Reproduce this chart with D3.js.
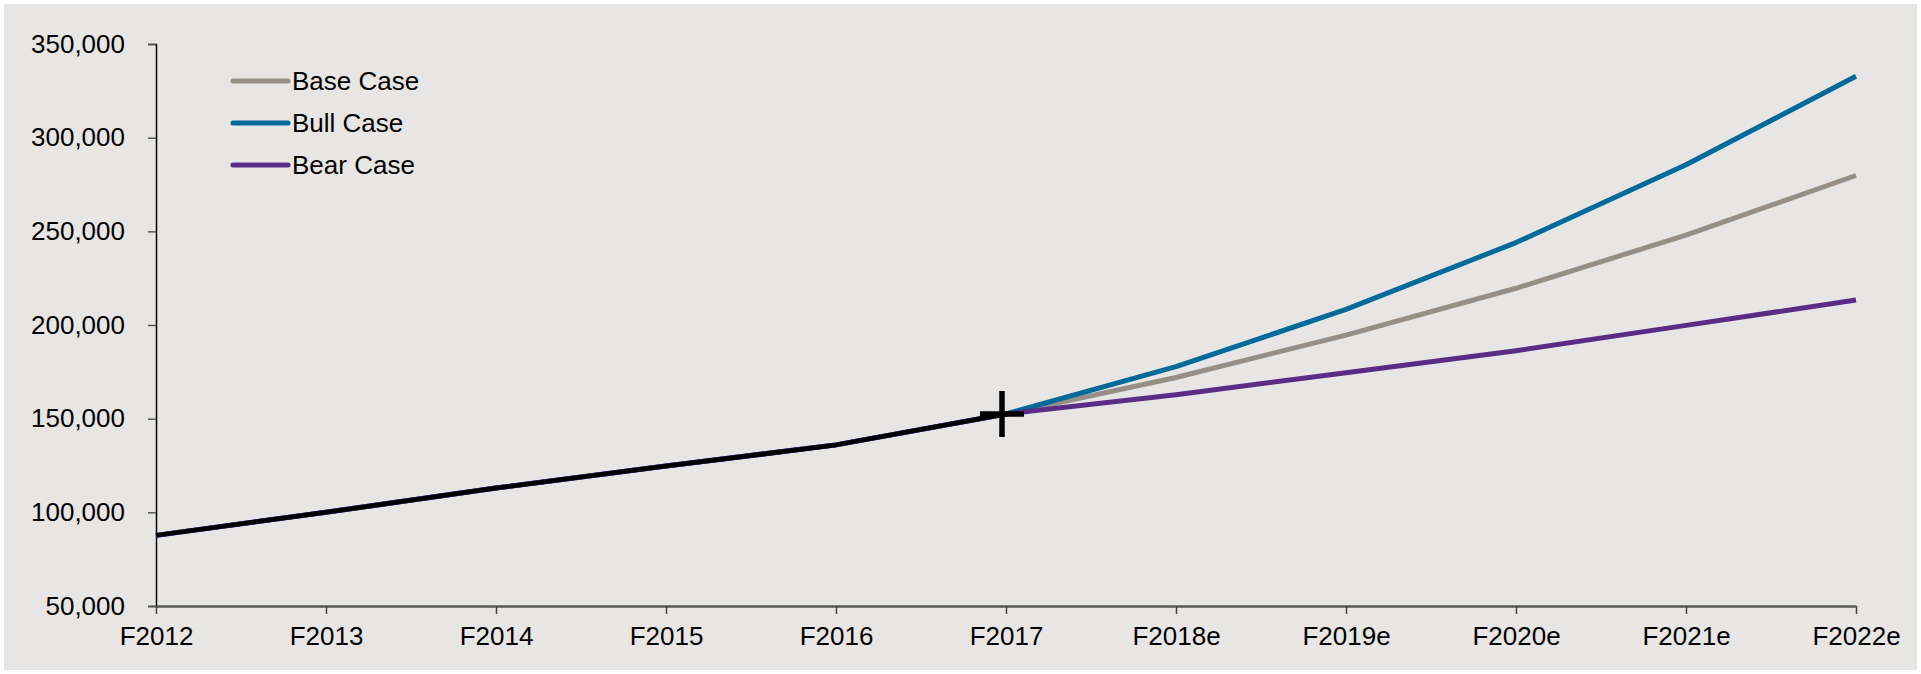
<!DOCTYPE html>
<html>
<head>
<meta charset="utf-8">
<script src="https://cdn.jsdelivr.net/npm/d3@7/dist/d3.min.js"></script>
<style>
  html, body { margin: 0; padding: 0; background: #ffffff; }
  svg { display: block; }
  text { font-family: "Liberation Sans", Arial, sans-serif; fill: #000; }
</style>
</head>
<body>
<svg id="chart" width="1921" height="674"></svg>
<script>
// Fiscal years (actuals through F2017, estimates after)
const categories = ["F2012", "F2013", "F2014", "F2015", "F2016", "F2017",
                    "F2018e", "F2019e", "F2020e", "F2021e", "F2022e"];

// Reported history
const actual = [87700, 100000, 113000, 124700, 136000, 152500];

// Scenario paths (history + projections)
const baseCase = [87700, 100000, 113000, 124700, 136000, 152500, 172000, 194600, 219600, 248000, 279800];
const bullCase = [87700, 100000, 113000, 124700, 136000, 152500, 177800, 208300, 244000, 285500, 332800];
const bearCase = [87700, 100000, 113000, 124700, 136000, 152500, 162800, 174500, 186300, 199800, 213300];

const yTicks = [50000, 100000, 150000, 200000, 250000, 300000, 350000];

const seriesNames = ["Base Case", "Bull Case", "Bear Case"];
const seriesColors = ["#968f85", "#006a9b", "#5b2c86"];
const seriesValues = [baseCase, bullCase, bearCase];

const W = 1921, H = 674;
const margin = { left: 156, right: 65, top: 44, bottom: 68 };

const svg = d3.select("#chart");

// panel background
svg.append("rect")
  .attr("x", 4).attr("y", 4)
  .attr("width", W - 8).attr("height", H - 8)
  .attr("fill", "#e7e6e4");

const x = d3.scalePoint()
  .domain(categories)
  .range([margin.left, W - margin.right]);

const y = d3.scaleLinear()
  .domain([50000, 350000])
  .range([H - margin.bottom, margin.top]);

const fmt = d3.format(",");

// y axis
const yAxis = svg.append("g")
  .attr("transform", `translate(${margin.left},0)`)
  .call(d3.axisLeft(y).tickValues(yTicks).tickFormat(fmt).tickSize(8).tickPadding(23));
yAxis.select(".domain").attr("stroke", "#000").attr("stroke-width", 1.5);
yAxis.selectAll(".tick line").attr("stroke", "#555").attr("stroke-width", 1.5);
yAxis.selectAll(".tick text")
  .attr("font-size", 26)
  .attr("font-family", "Liberation Sans, Arial, sans-serif")
  .attr("fill", "#000");

// x axis
const xAxis = svg.append("g")
  .attr("transform", `translate(0,${y(50000)})`)
  .call(d3.axisBottom(x).tickSize(8).tickPadding(13).tickSizeOuter(0));
xAxis.select(".domain").attr("stroke", "#595959").attr("stroke-width", 2.5);
xAxis.selectAll(".tick line").attr("stroke", "#444").attr("stroke-width", 1.5);
xAxis.selectAll(".tick text")
  .attr("font-size", 26)
  .attr("font-family", "Liberation Sans, Arial, sans-serif")
  .attr("fill", "#000");

const line = d3.line()
  .x((d, i) => x(categories[i]))
  .y(d => y(d));

// scenario lines
seriesValues.forEach((vals, k) => {
  svg.append("path")
    .datum(vals)
    .attr("fill", "none")
    .attr("stroke", seriesColors[k])
    .attr("stroke-width", 5)
    .attr("stroke-linejoin", "round")
    .attr("d", line);
});

// actual history on top
svg.append("path")
  .datum(actual)
  .attr("fill", "none")
  .attr("stroke", "#000")
  .attr("stroke-width", 4.5)
  .attr("stroke-linejoin", "round")
  .attr("d", line);

// cross marker on the last actual year
const lastIdx = actual.length - 1;
const cx = x(categories[lastIdx]) - 4, cy = y(actual[lastIdx]);
svg.append("path")
  .attr("d", `M${cx - 22},${cy}H${cx + 22}M${cx},${cy - 23}V${cy + 23}`)
  .attr("stroke", "#000")
  .attr("stroke-width", 5.5)
  .attr("fill", "none");

// legend
const legend = svg.append("g").attr("transform", "translate(233,81)");
seriesNames.forEach((name, k) => {
  const g = legend.append("g").attr("transform", `translate(0,${k * 42})`);
  g.append("line")
    .attr("x1", 0).attr("x2", 55)
    .attr("y1", 0).attr("y2", 0)
    .attr("stroke", seriesColors[k])
    .attr("stroke-width", 5)
    .attr("stroke-linecap", "round");
  g.append("text")
    .attr("x", 59).attr("y", 0)
    .attr("dy", "0.35em")
    .attr("font-size", 26)
    .text(name);
});
</script>
</body>
</html>
